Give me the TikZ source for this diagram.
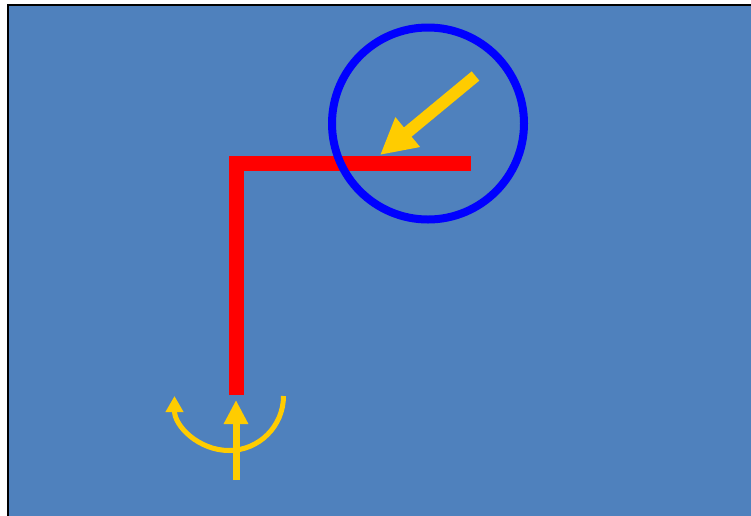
\documentclass[tikz,border=0pt]{standalone}
\usepackage{xcolor}
\usepackage{tikz}
\usetikzlibrary{arrows.meta}
\definecolor{PanelBlue}{RGB}{79,129,189}
\definecolor{ArrowYellow}{RGB}{255,204,0}

\begin{document}
\begin{tikzpicture}[x=1pt, y=-1pt]
		% 画布大小
		\clip (0,0) rectangle (751,515);
		\fill[white] (0,0) rectangle (751,515);
		\filldraw[fill=PanelBlue, draw=black, line width=2pt] (8,5) rectangle (770,530);
		
		\coordinate (B) at (236,395);
		\coordinate (K) at (236,163);
		\coordinate (E) at (471,163);
		\coordinate (C) at (428,123.5);
		\coordinate (S) at (475.5,76);
		\coordinate (T) at (380,155);
		\coordinate (U) at (236,480);
		\coordinate (V) at (236,400);
		\coordinate (R) at (283.5,396);
		
		% 红色折线
		\draw[red, line width=15pt, miter limit=10] (B) -- (K) -- (E);
		
		% 蓝色圆圈
		\draw[blue, line width=8pt] (C) circle (96);
		
		% 黄色箭头
		\draw[ArrowYellow, line width=12pt, -{Triangle[length=36pt, width=36pt]}] (S) -- (T);
		\draw[ArrowYellow, line width=7pt, -{Triangle[length=24pt, width=23pt]}] (U) -- (V);
		\draw[ArrowYellow, line width=5pt, -{Triangle[length=16pt, width=17pt]}] (R) arc[start angle=0, end angle=180, radius=54.5];
	\end{tikzpicture}
\end{document}
